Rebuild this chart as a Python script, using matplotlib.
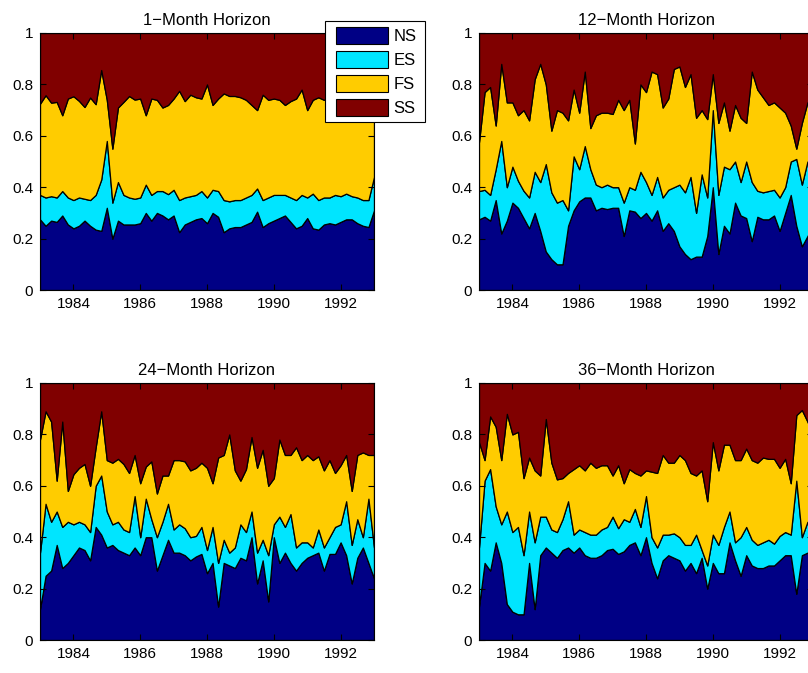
import numpy as np
import matplotlib
matplotlib.use("Agg")
import matplotlib.pyplot as plt
from matplotlib.patches import Rectangle
from matplotlib.legend_handler import HandlerPatch

plt.rcParams['font.family'] = ['Liberation Sans', 'DejaVu Sans']

# one sample every two months, Jan 1983 .. Jan 1993
dates = 1983 + np.arange(61) / 6.0

labels = ['NS', 'ES', 'FS', 'SS']
colors = ['#000085', '#00E5FF', '#FFCC00', '#800000']

# cumulative levels: top of NS, top of ES, top of FS
h1_ns = [0.275, 0.25, 0.27, 0.265, 0.29, 0.255, 0.24, 0.25, 0.27, 0.25, 0.235, 0.23, 0.32, 0.20, 0.27, 0.255, 0.255, 0.255, 0.26, 0.30, 0.27,
         0.30, 0.29, 0.275, 0.29, 0.225, 0.255, 0.265, 0.275, 0.28, 0.26, 0.30, 0.285, 0.225, 0.24, 0.245, 0.245, 0.255, 0.265, 0.305, 0.245,
         0.26, 0.27, 0.28, 0.29, 0.265, 0.24, 0.25, 0.28, 0.24, 0.235, 0.255, 0.26, 0.255, 0.265, 0.275, 0.275, 0.26, 0.25, 0.245, 0.31]
h1_es = [0.37, 0.36, 0.365, 0.36, 0.385, 0.36, 0.35, 0.36, 0.355, 0.35, 0.37, 0.43, 0.58, 0.34, 0.42, 0.37, 0.36, 0.355, 0.36, 0.41, 0.37,
         0.385, 0.385, 0.373, 0.39, 0.35, 0.36, 0.365, 0.37, 0.385, 0.36, 0.39, 0.385, 0.35, 0.345, 0.35, 0.35, 0.36, 0.37, 0.395, 0.35,
         0.36, 0.37, 0.37, 0.37, 0.36, 0.35, 0.37, 0.36, 0.375, 0.35, 0.36, 0.36, 0.37, 0.365, 0.375, 0.365, 0.36, 0.35, 0.35, 0.44]
h1_fs = [0.725, 0.758, 0.729, 0.732, 0.68, 0.745, 0.754, 0.736, 0.712, 0.749, 0.723, 0.856, 0.74, 0.55, 0.71, 0.732, 0.755, 0.741, 0.745, 0.68, 0.745,
         0.74, 0.71, 0.72, 0.745, 0.775, 0.735, 0.76, 0.75, 0.745, 0.80, 0.72, 0.745, 0.765, 0.755, 0.755, 0.75, 0.74, 0.72, 0.70, 0.76,
         0.74, 0.745, 0.74, 0.72, 0.735, 0.745, 0.78, 0.70, 0.74, 0.75, 0.74, 0.75, 0.73, 0.74, 0.76, 0.74, 0.73, 0.75, 0.74, 0.75]

h12_ns = [0.275, 0.285, 0.27, 0.35, 0.22, 0.27, 0.34, 0.32, 0.28, 0.24, 0.30, 0.23, 0.15, 0.12, 0.10, 0.10, 0.25, 0.31, 0.345, 0.36, 0.36,
          0.31, 0.32, 0.315, 0.32, 0.32, 0.21, 0.31, 0.305, 0.28, 0.30, 0.27, 0.31, 0.23, 0.26, 0.23, 0.17, 0.14, 0.12, 0.13, 0.13,
          0.21, 0.40, 0.14, 0.25, 0.22, 0.34, 0.29, 0.28, 0.19, 0.285, 0.275, 0.275, 0.29, 0.23, 0.30, 0.37, 0.25, 0.17, 0.21, 0.25]
h12_es = [0.385, 0.39, 0.37, 0.47, 0.58, 0.40, 0.48, 0.425, 0.386, 0.36, 0.46, 0.42, 0.49, 0.38, 0.34, 0.35, 0.31, 0.52, 0.47, 0.56, 0.47,
          0.41, 0.40, 0.41, 0.40, 0.40, 0.34, 0.40, 0.39, 0.46, 0.42, 0.37, 0.44, 0.36, 0.39, 0.40, 0.41, 0.38, 0.44, 0.30, 0.45,
          0.36, 0.70, 0.37, 0.48, 0.47, 0.50, 0.42, 0.50, 0.42, 0.386, 0.38, 0.385, 0.39, 0.36, 0.40, 0.50, 0.51, 0.41, 0.50, 0.45]
h12_fs = [0.575, 0.77, 0.79, 0.64, 0.88, 0.73, 0.73, 0.68, 0.70, 0.66, 0.82, 0.88, 0.80, 0.62, 0.70, 0.69, 0.66, 0.78, 0.69, 0.85, 0.63,
          0.68, 0.69, 0.69, 0.685, 0.74, 0.70, 0.74, 0.57, 0.80, 0.77, 0.85, 0.84, 0.71, 0.745, 0.86, 0.87, 0.79, 0.84, 0.67, 0.70,
          0.665, 0.84, 0.65, 0.73, 0.62, 0.72, 0.67, 0.65, 0.85, 0.78, 0.75, 0.72, 0.73, 0.71, 0.69, 0.64, 0.55, 0.65, 0.73, 0.75]

h24_ns = [0.12, 0.25, 0.27, 0.37, 0.28, 0.30, 0.33, 0.36, 0.35, 0.31, 0.44, 0.41, 0.36, 0.37, 0.35, 0.34, 0.33, 0.36, 0.33, 0.40, 0.40,
          0.27, 0.33, 0.39, 0.34, 0.34, 0.33, 0.31, 0.325, 0.335, 0.26, 0.30, 0.13, 0.30, 0.29, 0.28, 0.32, 0.31, 0.40, 0.22, 0.31,
          0.15, 0.40, 0.30, 0.34, 0.30, 0.27, 0.30, 0.32, 0.33, 0.34, 0.27, 0.335, 0.335, 0.38, 0.33, 0.22, 0.32, 0.36, 0.30, 0.24]
h24_es = [0.34, 0.53, 0.46, 0.50, 0.44, 0.46, 0.45, 0.46, 0.45, 0.42, 0.60, 0.64, 0.50, 0.45, 0.46, 0.43, 0.42, 0.56, 0.40, 0.55, 0.47,
          0.40, 0.46, 0.53, 0.43, 0.45, 0.435, 0.40, 0.405, 0.44, 0.35, 0.44, 0.30, 0.39, 0.34, 0.36, 0.45, 0.42, 0.50, 0.34, 0.39,
          0.33, 0.45, 0.48, 0.44, 0.49, 0.36, 0.38, 0.38, 0.36, 0.43, 0.36, 0.40, 0.44, 0.45, 0.54, 0.37, 0.47, 0.40, 0.55, 0.36]
h24_fs = [0.78, 0.89, 0.85, 0.62, 0.85, 0.58, 0.645, 0.67, 0.685, 0.60, 0.75, 0.89, 0.70, 0.69, 0.705, 0.685, 0.65, 0.72, 0.61, 0.675, 0.695,
          0.57, 0.64, 0.64, 0.70, 0.70, 0.695, 0.66, 0.67, 0.69, 0.67, 0.61, 0.71, 0.72, 0.80, 0.66, 0.62, 0.665, 0.79, 0.67, 0.74,
          0.60, 0.63, 0.78, 0.72, 0.72, 0.75, 0.70, 0.72, 0.70, 0.715, 0.66, 0.70, 0.65, 0.68, 0.72, 0.58, 0.72, 0.73, 0.72, 0.72]

h36_ns = [0.13, 0.30, 0.27, 0.38, 0.30, 0.14, 0.11, 0.10, 0.10, 0.30, 0.12, 0.33, 0.36, 0.34, 0.32, 0.35, 0.36, 0.34, 0.36, 0.33, 0.32,
          0.32, 0.33, 0.35, 0.355, 0.335, 0.345, 0.37, 0.38, 0.33, 0.40, 0.30, 0.24, 0.31, 0.33, 0.32, 0.31, 0.27, 0.30, 0.26, 0.32,
          0.20, 0.30, 0.26, 0.26, 0.38, 0.31, 0.25, 0.33, 0.29, 0.28, 0.28, 0.29, 0.29, 0.31, 0.33, 0.33, 0.18, 0.33, 0.34, 0.32]
h36_es = [0.36, 0.62, 0.665, 0.52, 0.45, 0.50, 0.42, 0.44, 0.33, 0.50, 0.38, 0.48, 0.48, 0.43, 0.42, 0.47, 0.54, 0.41, 0.43, 0.42, 0.41,
          0.41, 0.43, 0.44, 0.48, 0.435, 0.47, 0.46, 0.51, 0.44, 0.56, 0.40, 0.36, 0.41, 0.41, 0.415, 0.40, 0.37, 0.37, 0.41, 0.35,
          0.29, 0.41, 0.37, 0.44, 0.50, 0.38, 0.40, 0.44, 0.39, 0.37, 0.38, 0.39, 0.375, 0.405, 0.42, 0.41, 0.62, 0.40, 0.46, 0.45]
h36_fs = [0.77, 0.70, 0.87, 0.83, 0.70, 0.88, 0.80, 0.81, 0.63, 0.71, 0.66, 0.64, 0.86, 0.69, 0.625, 0.63, 0.65, 0.665, 0.68, 0.66, 0.69,
          0.67, 0.68, 0.68, 0.64, 0.68, 0.61, 0.665, 0.65, 0.64, 0.66, 0.655, 0.65, 0.72, 0.69, 0.69, 0.72, 0.70, 0.65, 0.64, 0.66,
          0.54, 0.77, 0.66, 0.76, 0.76, 0.70, 0.70, 0.745, 0.70, 0.69, 0.71, 0.705, 0.705, 0.67, 0.705, 0.61, 0.875, 0.895, 0.85, 0.80]

panels = [
    ('1\u2212Month Horizon', h1_ns, h1_es, h1_fs),
    ('12\u2212Month Horizon', h12_ns, h12_es, h12_fs),
    ('24\u2212Month Horizon', h24_ns, h24_es, h24_fs),
    ('36\u2212Month Horizon', h36_ns, h36_es, h36_fs),
]

W, H = 808, 673
fig = plt.figure(figsize=(W / 100, H / 100), dpi=100)

# axes boxes in pixels (left, top), same size for all; right column runs off the page
aw, ah = 334, 257
corners = [(40, 33), (479, 33), (40, 383), (479, 383)]


def inset_patch(legend, orig_handle, xdescent, ydescent, width, height, fontsize):
    # leave a gap on the left of each swatch, like the MATLAB legend
    gap = 0.09 * width
    return Rectangle((-xdescent + gap, -ydescent), width - gap, height)


for (title, ns, es, fs), (x0, y0) in zip(panels, corners):
    ax = fig.add_axes([x0 / W, 1 - (y0 + ah) / H, aw / W, ah / H])
    levels = np.vstack([np.zeros(len(dates)), ns, es, fs, np.ones(len(dates))])
    shares = np.diff(levels, axis=0)
    ax.stackplot(dates, shares, colors=colors, edgecolor='black', linewidth=0.9)
    ax.set_xlim(1983, 1993)
    ax.set_ylim(0, 1)
    ax.set_xticks([1984, 1986, 1988, 1990, 1992])
    ax.set_yticks([0, 0.2, 0.4, 0.6, 0.8, 1])
    ax.set_yticklabels(['0', '0.2', '0.4', '0.6', '0.8', '1'])
    ax.tick_params(direction='in', top=True, right=True, labelsize=11, length=4, pad=5)
    ax.set_title(title, fontsize=12, pad=6)
    for s in ax.spines.values():
        s.set_linewidth(0.8)

proxies = [Rectangle((0, 0), 1, 1, facecolor=c, edgecolor='black', linewidth=0.8) for c in colors]
leg = fig.legend(handles=proxies, labels=labels, loc='upper left',
                 bbox_to_anchor=(325 / W, 1 - 124 / H, 100 / W, 103 / H), mode='expand',
                 borderaxespad=0, fancybox=False, framealpha=1, edgecolor='black',
                 fontsize=12, handlelength=3.42, handleheight=1.15,
                 labelspacing=0.42, handletextpad=0.3, borderpad=0.38,
                 handler_map={Rectangle: HandlerPatch(patch_func=inset_patch)})
leg.get_frame().set_linewidth(0.8)

fig.savefig('out.png', dpi=100)
